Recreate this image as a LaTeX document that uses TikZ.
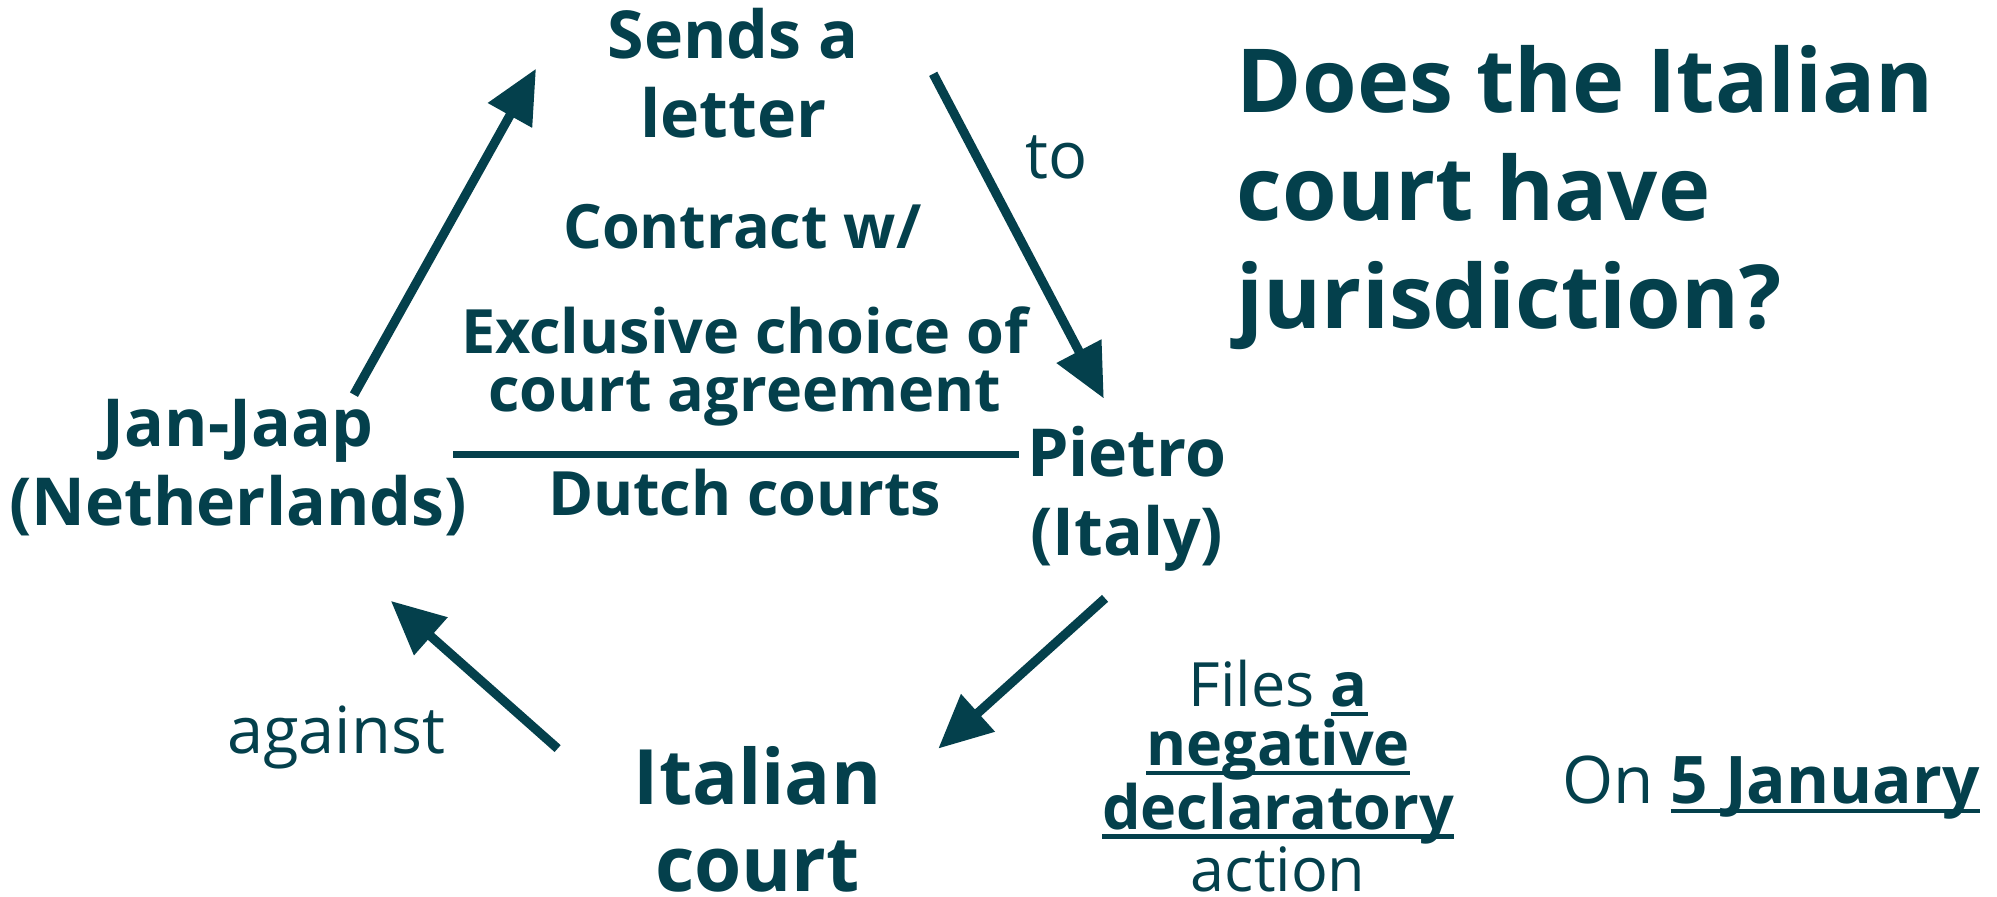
\documentclass[tikz,border=0pt]{standalone}
\usepackage{fontspec}
\setmainfont{Open Sans}
\usetikzlibrary{arrows.meta}
\definecolor{dteal}{RGB}{4,64,76}
\newcommand{\ulword}[1]{\setbox0=\hbox{#1}\rlap{\rule[-3.7pt]{\wd0}{1.6pt}}\box0}

\begin{document}
\begin{tikzpicture}[x=0.5pt,y=-0.5pt,line width=3.6pt,
  lbl/.style={text=dteal,align=center,inner sep=0pt,anchor=base,font=\bfseries\fontsize{26}{31}\selectfont},
  mid/.style={lbl,font=\bfseries\fontsize{24}{22.5}\selectfont},
  thin/.style={lbl,font=\fontsize{25.5}{30}\selectfont},
  arr/.style={draw=dteal,-{Triangle[length=21pt,width=19pt]}}]
\useasboundingbox (0,0) rectangle (1568.6,704);

%people
\node[lbl] (send) at (576,108) {Sends a\\letter};
\node[lbl] (jan) at (187,413) {Jan-Jaap\\(Netherlands)};
\node[lbl] (pietro) at (885,436) {Pietro\\(Italy)};
\node[lbl,font=\bfseries\fontsize{30}{34}\selectfont] (court) at (595,700) {Italian\\court};

%contract
\node[mid] (contract) at (583,195) {Contract w/};
\node[mid] (excl) at (585,323) {Exclusive choice of\\court agreement};
\node[mid] (dutch) at (585,405) {Dutch courts};
\coordinate (ln1) at (356,357);
\coordinate (ln2) at (800,357);
\draw[dteal,line width=2.6pt] (ln1)--(ln2);

%arrows
\coordinate (j1) at (278,310);
\coordinate (s1) at (421,54);
\coordinate (s2) at (733,58);
\coordinate (p1) at (867,313);
\coordinate (p2) at (868,470);
\coordinate (c1) at (737,588);
\coordinate (c2) at (438,588);
\coordinate (j2) at (307,472);
\draw[arr] (j1)--(s1);
\draw[arr] (s2)--(p1);
\draw[arr] (p2)--(c1);
\draw[arr] (c2)--(j2);

\node[thin] (to) at (830,140) {to};
\node[thin] (against) at (264,592) {against};

%action
\node[thin,font=\fontsize{24}{23.2}\selectfont] (files) at (1004,700)
  {Files \textbf{\ulword{a}}\\\textbf{\ulword{negative}}\\\textbf{\ulword{declaratory}}\\action};
\node[thin,font=\fontsize{25.8}{30}\selectfont] (date) at (1391,631) {On \textbf{\ulword{5 January}}};

%question
\node[lbl,align=left,anchor=base west,font=\bfseries\fontsize{34.7}{42.5}\selectfont] (quest) at (968,258)
  {Does the Italian\\court have\\jurisdiction?};
\end{tikzpicture}
\end{document}
